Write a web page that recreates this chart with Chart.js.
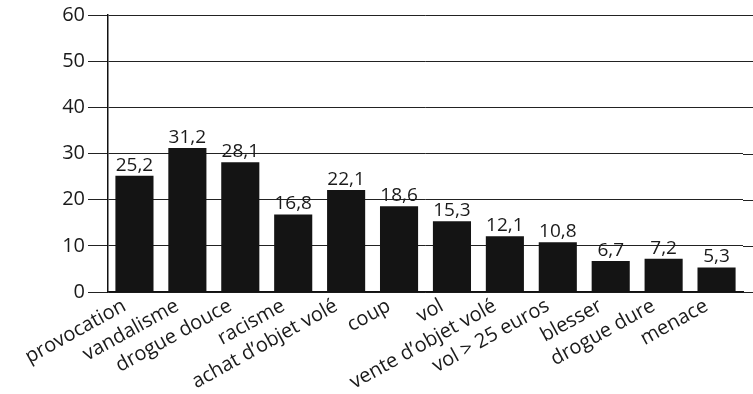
<!DOCTYPE html>
<html>
<head>
<meta charset="utf-8">
<script src="https://cdn.jsdelivr.net/npm/chart.js@4/dist/chart.umd.min.js"></script>
<style>
    html, body { margin: 0; padding: 0; background: #fff; }
    #wrap { width: 753px; height: 394px; }
</style>
</head>
<body>
<div id="wrap"><canvas id="delitsChart"></canvas></div>
<script>
// data
const categories = ['provocation', 'vandalisme', 'drogue douce', 'racisme', 'achat d\u2019objet volé', 'coup', 'vol', 'vente d\u2019objet volé', 'vol > 25 euros', 'blesser', 'drogue dure', 'menace'];
const values = [25.2, 31.2, 28.1, 16.8, 22.1, 18.6, 15.3, 12.1, 10.8, 6.7, 7.2, 5.3];
const yTicks = [0, 10, 20, 30, 40, 50, 60];

const fontFamily = '"Open Sans", "DejaVu Sans", sans-serif';

// draws the value over each bar, with a comma as decimal sign
const valueLabels = {
    id: 'valueLabels',
    afterDatasetsDraw(chart) {
        const ctx = chart.ctx;
        const meta = chart.getDatasetMeta(0);
        ctx.save();
        ctx.font = '19px ' + fontFamily;
        ctx.fillStyle = '#1a1a1a';
        ctx.textAlign = 'center';
        ctx.textBaseline = 'bottom';
        meta.data.forEach(function(bar, i) {
            const txt = String(values[i]).replace('.', ',');
            ctx.fillText(txt, bar.x, bar.y - 1);
        });
        ctx.restore();
    }
};

// the horizontal rules run on to the page edge
const gridToEdge = {
    id: 'gridToEdge',
    beforeDatasetsDraw(chart) {
        const ctx = chart.ctx;
        const y = chart.scales.y;
        ctx.save();
        ctx.strokeStyle = '#222';
        ctx.lineWidth = 1;
        y.ticks.forEach(function(t) {
            const py = Math.round(y.getPixelForValue(t.value)) + 0.5;
            ctx.beginPath();
            ctx.moveTo(chart.chartArea.right, py);
            ctx.lineTo(chart.width, py);
            ctx.stroke();
        });
        ctx.restore();
    }
};

window.onload = function() {
    var ctx = document.getElementById('delitsChart').getContext('2d');
    new Chart(ctx, {
        type: 'bar',
        data: {
            labels: categories,
            datasets: [{
                data: values,
                backgroundColor: '#141414',
                borderWidth: 0,
                barPercentage: 0.72,
                categoryPercentage: 1.0
            }]
        },
        options: {
            responsive: true,
            maintainAspectRatio: false,
            animation: false,
            layout: { padding: { top: 6, right: 10, left: 0, bottom: 0 } },
            plugins: {
                legend: { display: false },
                tooltip: { enabled: false }
            },
            scales: {
                x: {
                    afterFit: function(scale) { scale.height = 102; },
                    grid: { display: false },
                    border: { display: true, color: '#111', width: 1.5 },
                    ticks: {
                        color: '#1a1a1a',
                        font: { family: fontFamily, size: 20 },
                        minRotation: 29,
                        maxRotation: 29,
                        autoSkip: false,
                        padding: -6,
                        labelOffset: -10
                    }
                },
                y: {
                    min: 0,
                    max: 60,
                    afterFit: function(scale) { scale.width = 108; },
                    afterBuildTicks: function(axis) {
                        const t = [];
                        for (let v = 0; v <= 60; v += 5) t.push({ value: v });
                        axis.ticks = t;
                    },
                    grid: {
                        color: '#222',
                        lineWidth: 1,
                        drawTicks: true,
                        tickLength: 20,
                        tickColor: function(c) {
                            return c.tick && c.tick.value % 10 === 0 ? '#222' : 'rgba(0,0,0,0)';
                        }
                    },
                    border: { display: true, color: '#111', width: 1.5 },
                    ticks: {
                        color: '#1a1a1a',
                        font: { family: fontFamily, size: 20 },
                        padding: 3,
                        callback: function(v) {
                            return yTicks.indexOf(v) >= 0 ? v : '';
                        }
                    }
                }
            }
        },
        plugins: [gridToEdge, valueLabels]
    });
};
</script>
</body>
</html>
